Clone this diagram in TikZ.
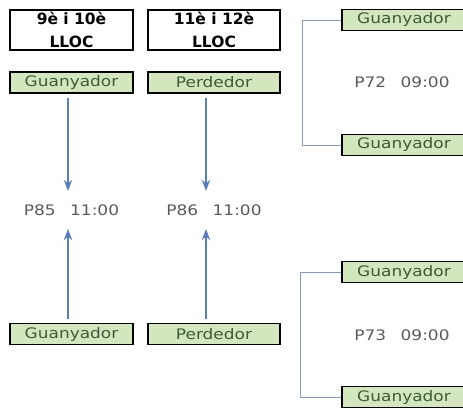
\documentclass[tikz,border=0pt]{standalone}
\usepackage{fontspec}
\setmainfont{DejaVu Sans}
\newfontfamily\ampla[FakeStretch=1.17]{DejaVu Sans}
\usetikzlibrary{arrows.meta,
                positioning}
\definecolor{verdclar}{HTML}{D3E6BE}
\definecolor{textverd}{HTML}{3F5A3A}
\definecolor{blaufl}{HTML}{5B7DB8}
\definecolor{blauclau}{HTML}{8A96BE}
\tikzset{
        base/.style={draw, align=center, inner sep=0pt},
        titol/.style={base, line width=1.6pt, fill=white, minimum height=40pt,
                      font=\bfseries\fontsize{15.5}{23}\selectfont},
        equip/.style={base, line width=1.2pt, fill=verdclar, text=textverd,
                      minimum height=21pt, font=\ampla\fontsize{14.5}{16}\selectfont},
        partit/.style={text=black!65, font=\ampla\fontsize{14.5}{16}\selectfont},
        fletxa/.style={-Stealth, line width=1.8pt, draw=blaufl},
        clau/.style={draw=blauclau, line width=0.8pt},
 }

\begin{document}
\begin{tikzpicture}[x=1pt, y=-1pt]
    \useasboundingbox (0,0) rectangle (463,414);
    % columnes de l'esquerra
    \node[titol, minimum width=123pt] (t1) at (71.5,30) {9è i 10è\\LLOC};
    \node[titol, minimum width=132pt] (t2) at (214,30) {11è i 12è\\LLOC};
    \node[equip, minimum width=123pt] (g1) at (71.5,82.5) {Guanyador};
    \node[equip, minimum width=132pt] (p1) at (214,82.5) {Perdedor};
    \node[partit] (m85) at (71.5,210) {P85\quad 11:00};
    \node[partit] (m86) at (214,210) {P86\quad 11:00};
    \node[equip, minimum width=123pt] (g2) at (71.5,334) {Guanyador};
    \node[equip, minimum width=132pt] (p2) at (214,334) {Perdedor};

    \draw[fletxa] ([xshift=-3.5pt, yshift=-4pt]g1.south) -- ([xshift=-3.5pt, yshift=10pt]m85.north);
    \draw[fletxa] ([xshift=-3.5pt, yshift=4pt]g2.north) -- ([xshift=-3.5pt, yshift=-10pt]m85.south);
    \draw[fletxa] ([xshift=-8pt, yshift=-4pt]p1.south) -- ([xshift=-8pt, yshift=10pt]m86.north);
    \draw[fletxa] ([xshift=-8pt, yshift=4pt]p2.north) -- ([xshift=-8pt, yshift=-10pt]m86.south);

    % columna de la dreta
    \node[equip, minimum width=124pt] (r1) at (404,20) {Guanyador};
    \node[partit] (m72) at (402,82) {P72\quad 09:00};
    \node[equip, minimum width=124pt] (r2) at (404,145) {Guanyador};
    \node[equip, minimum width=124pt] (r3) at (404,272) {Guanyador};
    \node[partit] (m73) at (402,335) {P73\quad 09:00};
    \node[equip, minimum width=124pt] (r4) at (404,397) {Guanyador};

    \draw[clau] (r1.west) -| (302,145) -- (r2.west);
    \draw[clau] (r3.west) -| (300,397) -- (r4.west);
\end{tikzpicture}
\end{document}
